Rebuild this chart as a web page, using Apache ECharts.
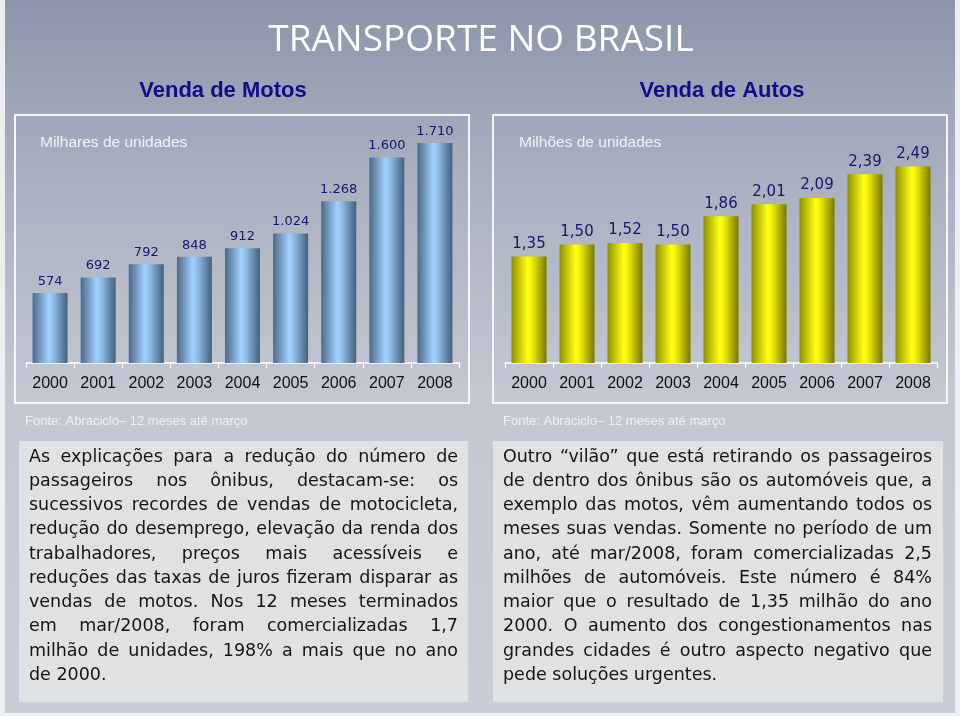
<!DOCTYPE html>
<html><head><meta charset="utf-8">
<script src="https://cdn.jsdelivr.net/npm/echarts@6/dist/echarts.min.js"></script>
<style>html,body{margin:0;padding:0;background:#eceef2;} #c{width:960px;height:716px;}</style>
</head><body><div id="c"></div>
<script>
const years = ['2000','2001','2002','2003','2004','2005','2006','2007','2008'];
const motos = [574, 692, 792, 848, 912, 1024, 1268, 1600, 1710];
const autos = [1.35, 1.50, 1.52, 1.50, 1.86, 2.01, 2.09, 2.39, 2.49];
const mainTitle = 'TRANSPORTE NO BRASIL';
const motosTitle = 'Venda de Motos';
const autosTitle = 'Venda de Autos';
const motosUnit = 'Milhares de unidades';
const autosUnit = 'Milhões de unidades';
const sourceText = 'Fonte: Abraciclo– 12 meses até março';
const motosText = [
  'As explicações para a redução do número de',
  'passageiros nos ônibus, destacam-se: os',
  'sucessivos recordes de vendas de motocicleta,',
  'redução do desemprego, elevação da renda dos',
  'trabalhadores, preços mais acessíveis e',
  'reduções das taxas de juros fizeram disparar as',
  'vendas de motos. Nos 12 meses terminados',
  'em mar/2008, foram comercializadas 1,7',
  'milhão de unidades, 198% a mais que no ano',
  'de 2000.'
];
const autosText = [
  'Outro “vilão” que está retirando os passageiros',
  'de dentro dos ônibus são os automóveis que, a',
  'exemplo das motos, vêm aumentando todos os',
  'meses suas vendas. Somente no período de um',
  'ano, até mar/2008, foram comercializadas 2,5',
  'milhões de automóveis. Este número é 84%',
  'maior que o resultado de 1,35 milhão do ano',
  '2000. O aumento dos congestionamentos nas',
  'grandes cidades é outro aspecto negativo que',
  'pede soluções urgentes.'
];

const TEXT_FONT = '17.5px "DejaVu Sans"';
const mctx = document.createElement('canvas').getContext('2d');
function justify(lines, x0, width, y0, lh) {
  mctx.font = TEXT_FONT;
  const els = [];
  lines.forEach((line, i) => {
    const y = y0 + i * lh;
    const words = line.split(' ');
    if (i === lines.length - 1 || words.length < 2) {
      els.push({type:'text', x:x0, y:y, z:5, style:{text:line, font:TEXT_FONT, fill:'#141414', verticalAlign:'middle', align:'left'}});
      return;
    }
    const ws = words.map(w => mctx.measureText(w).width);
    const tot = ws.reduce((a,b)=>a+b,0);
    const gap = (width - tot) / (words.length - 1);
    let x = x0;
    words.forEach((w, j) => {
      els.push({type:'text', x:x, y:y, z:5, style:{text:w, font:TEXT_FONT, fill:'#141414', verticalAlign:'middle', align:'left'}});
      x += ws[j] + gap;
    });
  });
  return els;
}

const fmtMotos = v => { const n = v.value; return n >= 1000 ? Math.floor(n/1000) + '.' + String(n%1000).padStart(3,'0') : String(n); };
const fmtAutos = v => v.value.toFixed(2).replace('.', ',');

const blueGrad = new echarts.graphic.LinearGradient(0,0,1,0,[
  {offset:0, color:'#4d6988'},{offset:0.45, color:'#9fd0ff'},{offset:0.55, color:'#96c6f4'},{offset:1, color:'#465f7c'}]);
const yellowGrad = new echarts.graphic.LinearGradient(0,0,1,0,[
  {offset:0, color:'#8f8f00'},{offset:0.45, color:'#ffff10'},{offset:0.55, color:'#f8f800'},{offset:1, color:'#7a7a00'}]);

function xAxisCfg(idx) {
  return {
    type:'category', gridIndex:idx, data:years,
    axisLine:{show:true, lineStyle:{color:'#ffffff', width:1.5}},
    axisTick:{show:true, alignWithLabel:false, length:5, lineStyle:{color:'#ffffff', width:1.2}},
    axisLabel:{color:'#111111', fontSize:16, fontFamily:'"Liberation Sans", Arial', margin:13},
    splitLine:{show:false}
  };
}

const chart = echarts.init(document.getElementById('c'), null, {renderer:'canvas'});
chart.setOption({
  backgroundColor:'#eceef2',
  animation:false,
  grid:[
    {left:26, width:433, top:131, bottom:353, containLabel:false, outerBoundsMode:'none'},
    {left:505, width:432, top:142, bottom:353, containLabel:false, outerBoundsMode:'none'}
  ],
  xAxis:[xAxisCfg(0), xAxisCfg(1)],
  yAxis:[
    {type:'value', gridIndex:0, min:44, max:1800, show:false, splitLine:{show:false}},
    {type:'value', gridIndex:1, min:0, max:2.8, show:false, splitLine:{show:false}}
  ],
  series:[
    {type:'bar', xAxisIndex:0, yAxisIndex:0, data:motos, barWidth:35,
     itemStyle:{color:blueGrad},
     label:{show:true, position:'top', distance:5, formatter:fmtMotos, color:'#16166e', fontSize:13, fontFamily:'"DejaVu Sans"'}},
    {type:'bar', xAxisIndex:1, yAxisIndex:1, data:autos, barWidth:35,
     itemStyle:{color:yellowGrad},
     label:{show:true, position:'top', distance:5, formatter:fmtAutos, color:'#16166e', fontSize:15, fontFamily:'"DejaVu Sans"'}}
  ],
  graphic:[
    {type:'rect', z:-10, silent:true, shape:{x:5, y:0, width:950, height:713},
     style:{fill:new echarts.graphic.LinearGradient(0,0,0,1,[
       {offset:0, color:'#8c95aa'},{offset:0.25, color:'#a9b0c0'},{offset:0.55, color:'#c3c7d2'},{offset:1, color:'#c9cdd8'}])}},
    {type:'rect', z:-5, silent:true, shape:{x:15, y:115, width:454, height:288}, style:{fill:'none', stroke:'#f5f6f8', lineWidth:2}},
    {type:'rect', z:-5, silent:true, shape:{x:493, y:115, width:454, height:288}, style:{fill:'none', stroke:'#f5f6f8', lineWidth:2}},
    {type:'text', x:481, y:40, z:5, style:{text:mainTitle, font:'500 37px "Open Sans"', fill:'#ffffff', align:'center', verticalAlign:'middle'}},
    {type:'text', x:223, y:91, z:5, style:{text:motosTitle, font:'bold 22px "Liberation Sans"', fill:'#0e0e8a', align:'center', verticalAlign:'middle'}},
    {type:'text', x:722, y:91, z:5, style:{text:autosTitle, font:'bold 22px "Liberation Sans"', fill:'#0e0e8a', align:'center', verticalAlign:'middle'}},
    {type:'text', x:40, y:143, z:5, style:{text:motosUnit, font:'15.5px "Liberation Sans"', fill:'#f2f3f6', align:'left', verticalAlign:'middle'}},
    {type:'text', x:519, y:143, z:5, style:{text:autosUnit, font:'15.5px "Liberation Sans"', fill:'#f2f3f6', align:'left', verticalAlign:'middle'}},
    {type:'text', x:25, y:421, z:5, style:{text:sourceText, font:'13px "Liberation Sans"', fill:'#eef0f4', align:'left', verticalAlign:'middle'}},
    {type:'text', x:503, y:421, z:5, style:{text:sourceText, font:'13px "Liberation Sans"', fill:'#eef0f4', align:'left', verticalAlign:'middle'}},
    {type:'rect', z:1, silent:true, shape:{x:19, y:441, width:449, height:261}, style:{fill:'#e0e1e3'}},
    {type:'rect', z:1, silent:true, shape:{x:493, y:441, width:450, height:261}, style:{fill:'#e0e1e3'}}
  ].concat(justify(motosText, 29, 429, 457, 24.25)).concat(justify(autosText, 503, 429, 457, 24.25))
});
</script></body></html>
